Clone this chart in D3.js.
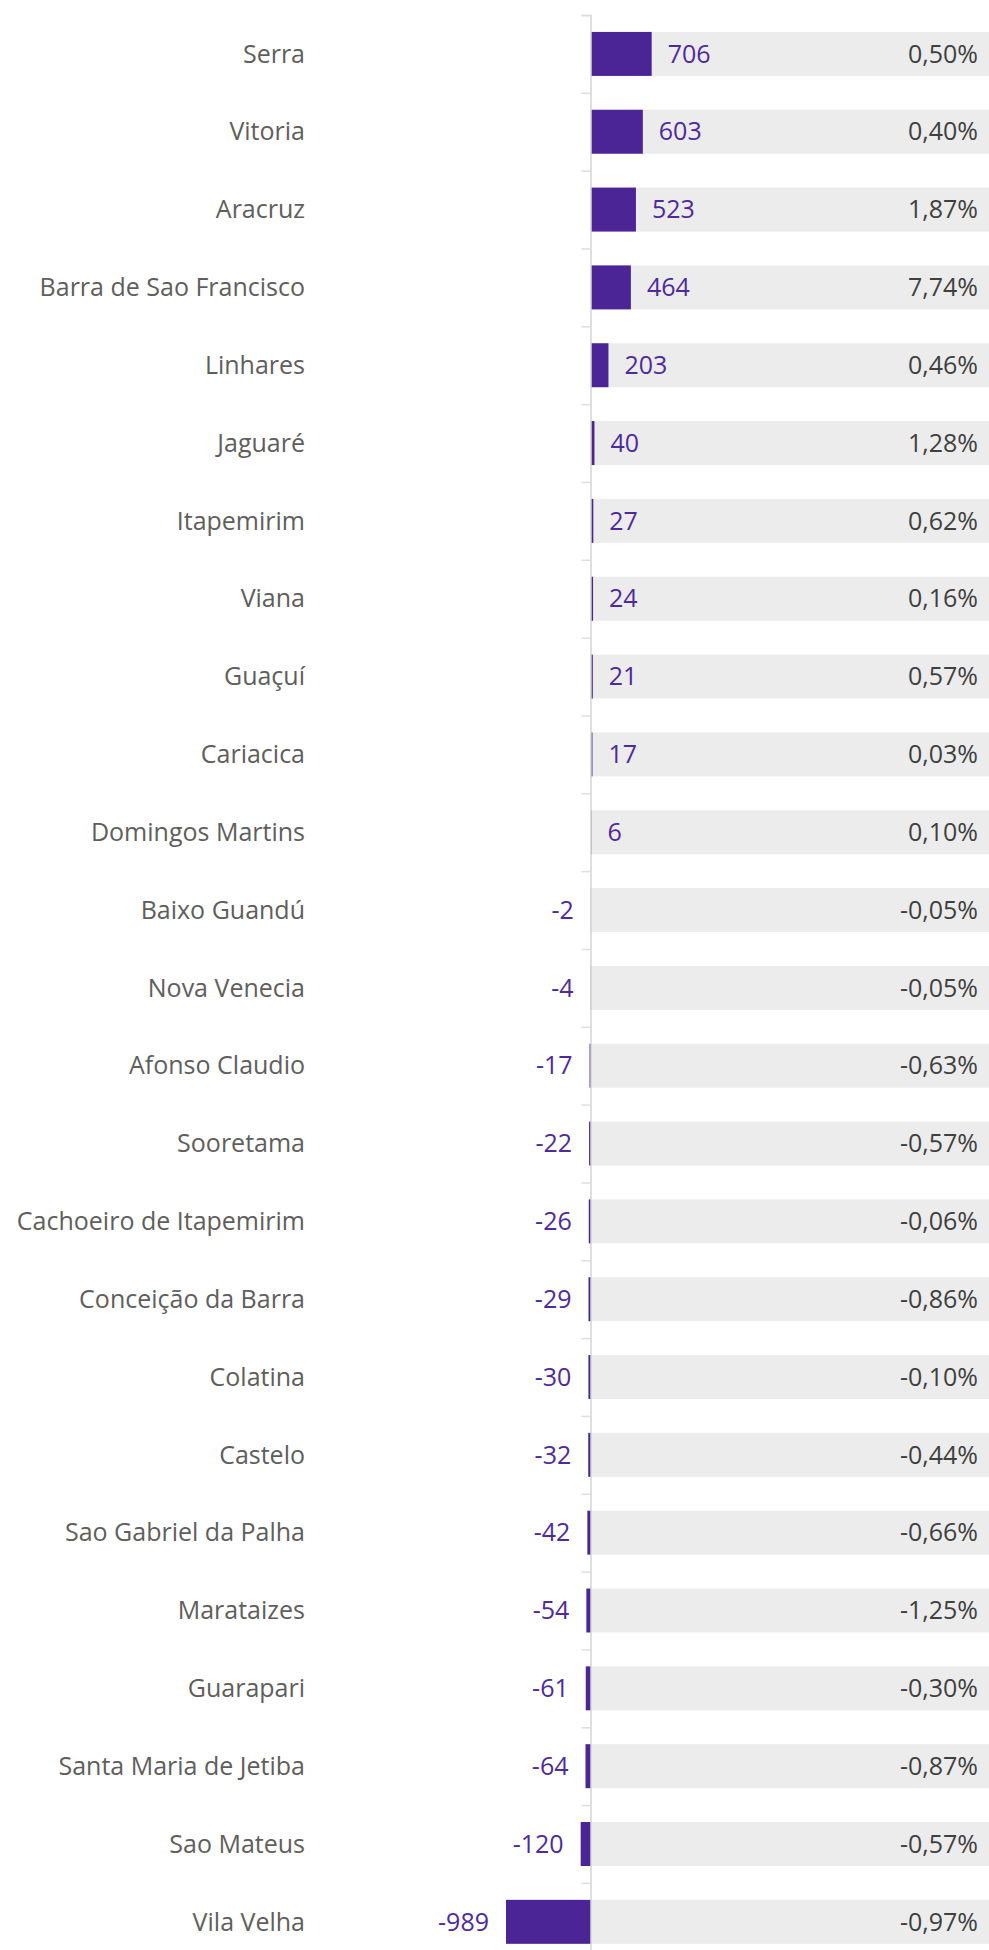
<!DOCTYPE html>
<html>
<head>
<meta charset="utf-8">
<script src="https://cdn.jsdelivr.net/npm/d3@7"></script>
<style>
  body { margin: 0; background: #fff; }
  text { font-family: "Open Sans", "Noto Sans", sans-serif; }
</style>
</head>
<body>
<div id="chart"></div>
<script>
const cities = ["Serra", "Vitoria", "Aracruz", "Barra de Sao Francisco", "Linhares", "Jaguaré",
  "Itapemirim", "Viana", "Guaçuí", "Cariacica", "Domingos Martins", "Baixo Guandú", "Nova Venecia",
  "Afonso Claudio", "Sooretama", "Cachoeiro de Itapemirim", "Conceição da Barra", "Colatina",
  "Castelo", "Sao Gabriel da Palha", "Marataizes", "Guarapari", "Santa Maria de Jetiba",
  "Sao Mateus", "Vila Velha"];
const saldo = [706, 603, 523, 464, 203, 40, 27, 24, 21, 17, 6, -2, -4, -17, -22, -26, -29, -30,
  -32, -42, -54, -61, -64, -120, -989];
const variacao = [0.50, 0.40, 1.87, 7.74, 0.46, 1.28, 0.62, 0.16, 0.57, 0.03, 0.10, -0.05, -0.05,
  -0.63, -0.57, -0.06, -0.86, -0.10, -0.44, -0.66, -1.25, -0.30, -0.87, -0.57, -0.97];

const width = 989, height = 1950;
const step = 77.83;
const marginTop = 15;

const ptBR = d3.formatLocale({ decimal: ",", thousands: ".", grouping: [3], currency: ["R$", ""], minus: "-" });
const fmtPct = ptBR.format(".2f");

const svg = d3.select("#chart").append("svg")
  .attr("width", width)
  .attr("height", height);

// escala horizontal: -989 em 506px, zero em 591px
const x = d3.scaleLinear()
  .domain([-989, 4631])
  .range([506, 989]);

const y = d3.scaleBand()
  .domain(cities)
  .range([marginTop, marginTop + step * cities.length])
  .paddingInner(0.435)
  .paddingOuter(0.2175);

const rows = svg.selectAll("g.row")
  .data(cities.map((c, i) => ({ city: c, value: saldo[i], pct: variacao[i] })))
  .enter()
  .append("g")
  .attr("class", "row");

// fundo cinza
rows.append("rect")
  .attr("x", x(0))
  .attr("y", d => y(d.city))
  .attr("width", x.range()[1] - x(0))
  .attr("height", y.bandwidth())
  .attr("fill", "#ececec");

rows.append("rect")
  .attr("x", d => Math.min(x(0), x(d.value)))
  .attr("y", d => y(d.city))
  .attr("width", d => Math.abs(x(d.value) - x(0)))
  .attr("height", y.bandwidth())
  .attr("fill", "#4b2596");

rows.append("text")
  .attr("x", 305)
  .attr("y", d => y(d.city) + y.bandwidth() / 2)
  .attr("dy", "0.35em")
  .attr("text-anchor", "end")
  .attr("font-size", 25)
  .attr("fill", "#605e5c")
  .text(d => d.city);

rows.append("text")
  .attr("x", d => d.value >= 0 ? x(d.value) + 16 : x(d.value) - 17)
  .attr("y", d => y(d.city) + y.bandwidth() / 2)
  .attr("dy", "0.35em")
  .attr("text-anchor", d => d.value >= 0 ? "start" : "end")
  .attr("font-size", 25)
  .attr("fill", "#4f2a9c")
  .text(d => d.value);

rows.append("text")
  .attr("x", 978)
  .attr("y", d => y(d.city) + y.bandwidth() / 2)
  .attr("dy", "0.35em")
  .attr("text-anchor", "end")
  .attr("font-size", 25)
  .attr("fill", "#404040")
  .text(d => fmtPct(d.pct) + "%");

// eixo com marcas entre as categorias
const yEdges = d3.scaleLinear()
  .domain([0, cities.length])
  .range([marginTop, marginTop + step * cities.length]);

const axis = svg.append("g")
  .attr("transform", `translate(${x(0) - 0.5},0)`)
  .call(d3.axisLeft(yEdges)
    .tickValues(d3.range(0, cities.length + 1))
    .tickSize(9)
    .tickFormat(""));

axis.select(".domain").attr("stroke", "#d4d4d4").attr("stroke-width", 1.5);
axis.selectAll(".tick line").attr("stroke", "#dedede").attr("stroke-width", 1.5);
</script>
</body>
</html>
